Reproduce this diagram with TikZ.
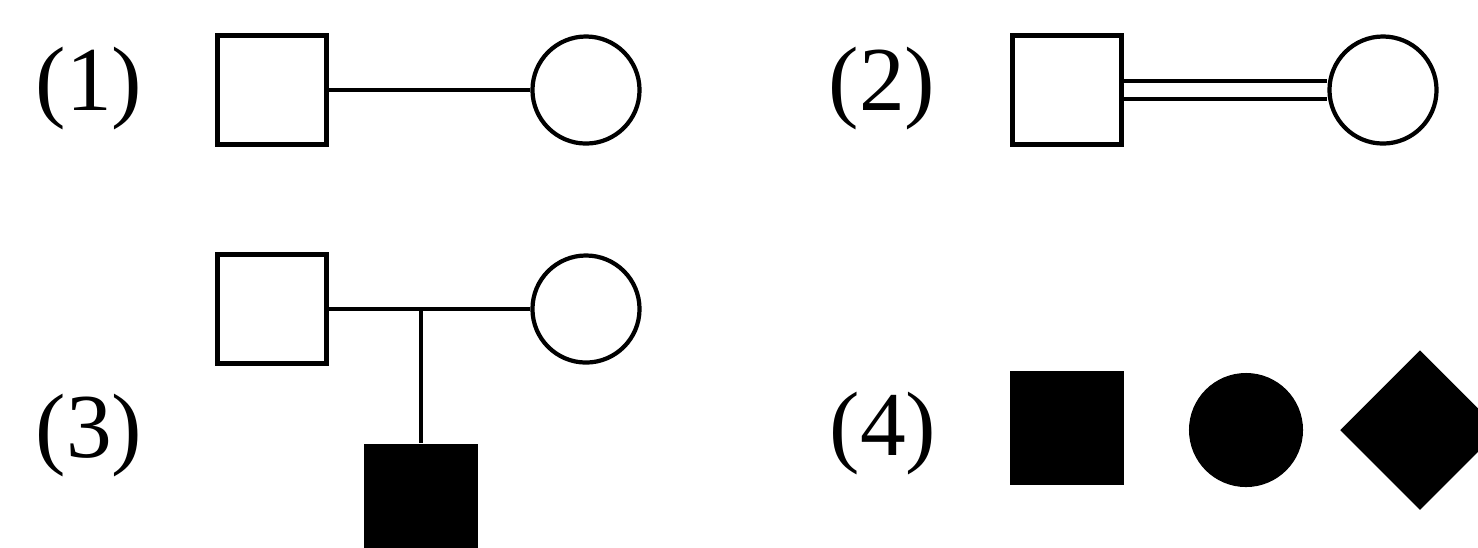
\documentclass[tikz,border=0pt]{standalone}
\usepackage{fontspec}
\setmainfont{Liberation Serif}
\usetikzlibrary{shapes.geometric}
\begin{document}
\begin{tikzpicture}[x=0.01cm,y=-0.01cm,
  sq/.style={draw, line width=1.2pt, rectangle, inner sep=0pt, minimum size=1.09cm},
  ci/.style={draw, line width=1.2pt, circle, inner sep=0pt, minimum size=1.07cm},
  filledsq/.style={fill=black, rectangle, inner sep=0pt, minimum size=1.14cm},
  filledci/.style={fill=black, circle, inner sep=0pt, minimum size=1.14cm},
  filleddi/.style={fill=black, diamond, aspect=1, inner sep=0pt, minimum width=1.6cm, minimum height=1.6cm},
  lab/.style={anchor=base, inner sep=0pt, font=\fontsize{26}{30}\selectfont},
  link/.style={line width=1pt}]
\useasboundingbox (0,0) rectangle (1478,547);
\clip (0,0) rectangle (1478,547);
% (1)
\node[lab] (l1) at (89,110) {(1)};
\node[sq] (s1) at (272,90) {};
\node[ci] (c1) at (586,90) {};
\draw[link] (s1) -- (c1);
% (2)
\node[lab] (l2) at (882,110) {(2)};
\node[sq] (s2) at (1067,90) {};
\node[ci] (c2) at (1383,90) {};
\draw[link, double, double distance=4.1pt] (s2) -- (c2);
% (3)
\node[lab] (l3) at (89,457) {(3)};
\node[sq] (s3) at (272,309) {};
\node[ci] (c3) at (586,309) {};
\draw[link] (s3) -- (c3);
\coordinate (j3) at (421,309);
\node[filledsq] (k3) at (421,501) {};
\draw[link] (j3) -- (k3.north);
% (4)
\node[lab] (l4) at (883,455) {(4)};
\node[filledsq] (f4) at (1067,428) {};
\node[filledci] (g4) at (1246,430) {};
\node[filleddi] (d4) at (1420,430) {};
\end{tikzpicture}
\end{document}
